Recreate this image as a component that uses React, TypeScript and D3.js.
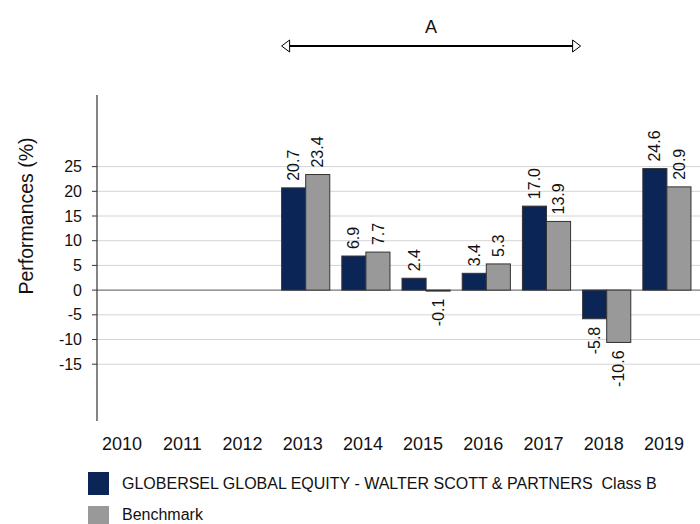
import * as d3 from 'd3';

const years = ['2010', '2011', '2012', '2013', '2014', '2015', '2016', '2017', '2018', '2019'];
const fundValues: (number | null)[] = [null, null, null, 20.7, 6.9, 2.4, 3.4, 17.0, -5.8, 24.6];
const benchValues: (number | null)[] = [null, null, null, 23.4, 7.7, -0.1, 5.3, 13.9, -10.6, 20.9];
const yTicks = [-15, -10, -5, 0, 5, 10, 15, 20, 25];
const fundName = 'GLOBERSEL GLOBAL EQUITY - WALTER SCOTT & PARTNERS  Class B';
const benchName = 'Benchmark';
const periodLabel = 'A';
const periodStart = '2013';
const periodEnd = '2018';

const FONT = '"Liberation Sans", Arial, sans-serif';
const NAVY = '#0c2557';
const GRAY = '#999999';

export default function App() {
  const width = 700;
  const height = 524;
  const axisX = 97;

  const x0 = d3.scaleBand().domain(years).range([95, 697]).paddingInner(0.2).paddingOuter(0.1);
  const x1 = d3.scaleBand().domain(['fund', 'bench']).range([0, x0.bandwidth()]);
  const y = d3.scaleLinear().domain([-26.5, 39.5]).range([421, 95]);

  // arrow spans the start of 2013 band to the start of 2018 band
  const arrowL = x0(periodStart)!;
  const arrowR = x0(periodEnd)! - 2;
  const arrowY = 46;

  const series = [
    { key: 'fund', values: fundValues, fill: NAVY },
    { key: 'bench', values: benchValues, fill: GRAY },
  ];

  return (
    <svg
      width={width}
      height={height}
      style={{ position: 'absolute', left: 0, top: 0, background: '#fff' }}
      fontFamily={FONT}
    >
      {/* grid */}
      {yTicks.map((t) => (
        <g key={t}>
          <line
            x1={axisX}
            x2={width}
            y1={y(t)}
            y2={y(t)}
            stroke={t === 0 ? '#555' : '#d4d4d4'}
            strokeWidth={1}
          />
          <line x1={axisX - 5} x2={axisX} y1={y(t)} y2={y(t)} stroke="#333" />
          <text x={82} y={y(t)} dy="0.35em" textAnchor="end" fontSize={16} fill="#111">
            {t}
          </text>
        </g>
      ))}

      {/* bars */}
      {series.map((s) =>
        years.map((yr, i) => {
          const v = s.values[i];
          if (v == null) return null;
          const bx = x0(yr)! + x1(s.key)!;
          const bw = x1.bandwidth();
          const top = y(Math.max(0, v));
          const h = Math.max(Math.abs(y(v) - y(0)), 1);
          const cx = bx + bw / 2;
          const label = v.toFixed(1);
          return (
            <g key={s.key + yr}>
              <rect x={bx} y={top} width={bw} height={h} fill={s.fill} stroke="#333" strokeWidth={1} />
              {v >= 0 ? (
                <text
                  transform={`translate(${cx},${y(v) - 7}) rotate(-90)`}
                  dy="0.35em"
                  textAnchor="start"
                  fontSize={16}
                  fill="#111"
                >
                  {label}
                </text>
              ) : (
                <text
                  transform={`translate(${cx},${y(v) + 8}) rotate(-90)`}
                  dy="0.35em"
                  textAnchor="end"
                  fontSize={16}
                  fill="#111"
                >
                  {label}
                </text>
              )}
            </g>
          );
        })
      )}

      {/* y axis */}
      <line x1={axisX} x2={axisX} y1={95} y2={421} stroke="#333" strokeWidth={1.2} />

      {/* x labels */}
      {years.map((yr) => (
        <text key={yr} x={x0(yr)! + x0.bandwidth() / 2 - 3} y={450} textAnchor="middle" fontSize={18} fill="#111">
          {yr}
        </text>
      ))}

      {/* axis title */}
      <text transform="translate(33,216) rotate(-90)" textAnchor="middle" fontSize={19.5} fill="#111">
        Performances (%)
      </text>

      {/* period arrow */}
      <line x1={arrowL + 8} x2={arrowR - 8} y1={arrowY} y2={arrowY} stroke="#000" strokeWidth={2} />
      <path
        d={`M${arrowL},${arrowY} L${arrowL + 8},${arrowY - 6} L${arrowL + 8},${arrowY + 6} Z`}
        fill="#fff"
        stroke="#000"
        strokeWidth={1}
      />
      <path
        d={`M${arrowR},${arrowY} L${arrowR - 8},${arrowY - 6} L${arrowR - 8},${arrowY + 6} Z`}
        fill="#fff"
        stroke="#000"
        strokeWidth={1}
      />
      <text x={(arrowL + arrowR) / 2} y={33} textAnchor="middle" fontSize={18} fill="#111">
        {periodLabel}
      </text>

      {/* legend */}
      <rect x={88} y={472} width={21} height={23} fill={NAVY} />
      <text x={122} y={489} fontSize={16} fill="#111" style={{ whiteSpace: 'pre' }}>
        {fundName}
      </text>
      <rect x={88} y={506} width={21} height={20} fill={GRAY} />
      <text x={122} y={520} fontSize={16} fill="#111">
        {benchName}
      </text>
    </svg>
  );
}
